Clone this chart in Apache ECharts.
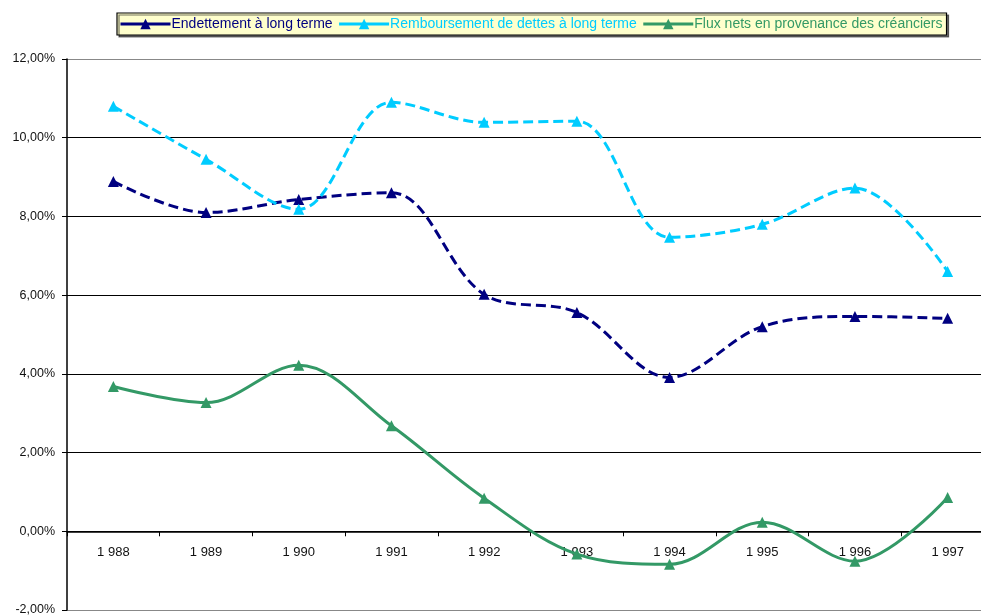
<!DOCTYPE html>
<html>
<head>
<meta charset="utf-8">
<script src="https://cdn.jsdelivr.net/npm/echarts@6/dist/echarts.min.js"></script>
<style>html,body{margin:0;padding:0;background:#fff;}#c{width:981px;height:615px;}</style>
</head>
<body>
<div id="c"></div>
<script>
const years = ['1 988','1 989','1 990','1 991','1 992','1 993','1 994','1 995','1 996','1 997'];
const endettement = [8.89, 8.10, 8.43, 8.60, 6.02, 5.56, 3.91, 5.20, 5.46, 5.41];
const remboursement = [10.80, 9.45, 8.18, 10.90, 10.39, 10.42, 7.47, 7.80, 8.72, 6.60];
const fluxNets = [3.68, 3.27, 4.22, 2.68, 0.84, -0.58, -0.84, 0.23, -0.76, 0.86];
const seriesNames = ['Endettement à long terme', 'Remboursement de dettes à long terme', 'Flux nets en provenance des créanciers'];
const colors = ['#000080', '#00CCFF', '#339966'];
const yMin = -2, yMax = 12, yStep = 2;

const chart = echarts.init(document.getElementById('c'));
const font = 'Liberation Sans, Arial, sans-serif';
function mk(i, data, dashed) {
  return {
    name: seriesNames[i], type: 'line', data: data, smooth: 0.35,
    symbol: 'triangle', symbolSize: 11,
    lineStyle: { color: colors[i], width: 3, type: dashed ? [10, 5] : 'solid' },
    itemStyle: { color: colors[i] }
  };
}
chart.setOption({
  animation: false,
  backgroundColor: '#fff',
  legend: {
    top: 13, left: 117,
    backgroundColor: '#FFFFCC', borderColor: '#000', borderWidth: 1.2,
    padding: [4, 4, 4, 2], itemGap: 5, itemWidth: 50, itemHeight: 13,
    shadowColor: 'rgba(0,0,0,0.55)', shadowOffsetX: 2, shadowOffsetY: 2, shadowBlur: 0,
    lineStyle: { type: 'solid', width: 3 },
    data: seriesNames.map((n, i) => ({ name: n, textStyle: { color: colors[i] } })),
    textStyle: { fontFamily: font, fontSize: 14, padding: [0, 0, 0, -4] }
  },
  grid: { left: 67, right: -13, top: 59, bottom: 5, containLabel: false, outerBoundsMode: 'none' },
  xAxis: {
    type: 'category', data: years, boundaryGap: true,
    axisLine: { onZero: false, lineStyle: { color: '#000', width: 1.5 } },
    axisTick: { show: true, length: 5, inside: false, lineStyle: { color: '#000' } },
    axisLabel: { color: '#111', fontFamily: font, fontSize: 13, margin: 15 },
    splitLine: { show: false }
  },
  yAxis: {
    type: 'value', min: yMin, max: yMax, interval: yStep,
    axisLine: { show: true, lineStyle: { color: '#000', width: 1.5 } },
    axisTick: { show: true, length: 5, lineStyle: { color: '#000' } },
    axisLabel: { color: '#111', fontFamily: font, fontSize: 12.5, margin: 12,
      formatter: v => v.toFixed(2).replace('.', ',') + '%' },
    splitLine: { show: true, lineStyle: { color: ['#888', '#000', '#000', '#000', '#000', '#000', '#000', '#888'], width: 1.2 } }
  },
  series: [mk(0, endettement, true), mk(1, remboursement, true), mk(2, fluxNets, false)]
});
// Move the category axis (line, ticks, labels) onto the zero line using the library's own scale
const pZero = chart.convertToPixel({ yAxisIndex: 0 }, 0);
const pMin = chart.convertToPixel({ yAxisIndex: 0 }, yMin);
chart.setOption({ xAxis: { offset: pZero - pMin } });
</script>
</body>
</html>
